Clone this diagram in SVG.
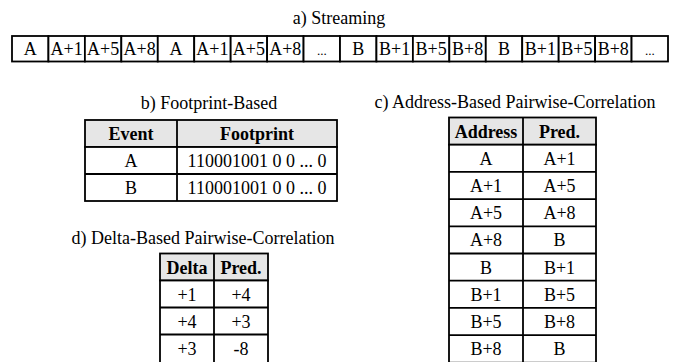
<svg xmlns="http://www.w3.org/2000/svg" width="675" height="362" viewBox="0 0 675 362">
<style>
svg text{font-family:"Liberation Serif","Times New Roman",serif !important;font-size:18px;fill:#000;text-anchor:middle}
svg text.h{font-weight:bold}
svg text.d{font-size:13px}
.c{fill:#fff;stroke:#000;stroke-width:1.8}
.hd{fill:#e6e6e6;stroke:#000;stroke-width:1.8}
.ln{stroke:#000;stroke-width:1.8;fill:none}
</style>
<rect width="675" height="362" fill="#fff"/>
<text x="339" y="24">a) Streaming</text>
<g id="streaming">
<g id="s1"><rect class="c" x="12" y="36" width="36.44" height="25.5"/><text x="30.2" y="55">A</text></g>
<g id="s2"><rect class="c" x="48.44" y="36" width="36.44" height="25.5"/><text x="66.7" y="55">A+1</text></g>
<g id="s3"><rect class="c" x="84.89" y="36" width="36.44" height="25.5"/><text x="103.1" y="55">A+5</text></g>
<g id="s4"><rect class="c" x="121.33" y="36" width="36.44" height="25.5"/><text x="139.6" y="55">A+8</text></g>
<g id="s5"><rect class="c" x="157.78" y="36" width="36.44" height="25.5"/><text x="176" y="55">A</text></g>
<g id="s6"><rect class="c" x="194.22" y="36" width="36.44" height="25.5"/><text x="212.4" y="55">A+1</text></g>
<g id="s7"><rect class="c" x="230.67" y="36" width="36.44" height="25.5"/><text x="248.9" y="55">A+5</text></g>
<g id="s8"><rect class="c" x="267.11" y="36" width="36.44" height="25.5"/><text x="285.3" y="55">A+8</text></g>
<g id="s9"><rect class="c" x="303.56" y="36" width="36.44" height="25.5"/><text class="d" x="321.8" y="55">...</text></g>
<g id="s10"><rect class="c" x="340" y="36" width="36.44" height="25.5"/><text x="358.2" y="55">B</text></g>
<g id="s11"><rect class="c" x="376.44" y="36" width="36.44" height="25.5"/><text x="394.7" y="55">B+1</text></g>
<g id="s12"><rect class="c" x="412.89" y="36" width="36.44" height="25.5"/><text x="431.1" y="55">B+5</text></g>
<g id="s13"><rect class="c" x="449.33" y="36" width="36.44" height="25.5"/><text x="467.6" y="55">B+8</text></g>
<g id="s14"><rect class="c" x="485.78" y="36" width="36.44" height="25.5"/><text x="504" y="55">B</text></g>
<g id="s15"><rect class="c" x="522.22" y="36" width="36.44" height="25.5"/><text x="540.4" y="55">B+1</text></g>
<g id="s16"><rect class="c" x="558.67" y="36" width="36.44" height="25.5"/><text x="576.9" y="55">B+5</text></g>
<g id="s17"><rect class="c" x="595.11" y="36" width="36.44" height="25.5"/><text x="613.3" y="55">B+8</text></g>
<g id="s18"><rect class="c" x="631.56" y="36" width="36.44" height="25.5"/><text class="d" x="649.8" y="55">...</text></g>
</g>

<text x="209" y="109">b) Footprint-Based</text>
<g id="footprint-table">
<rect class="hd" x="85" y="120" width="252" height="27"/>
<rect class="c" x="85" y="147" width="252" height="54"/>
<line class="ln" x1="85" y1="174" x2="337" y2="174"/>
<line class="ln" x1="177" y1="120" x2="177" y2="201"/>
<text class="h" x="131" y="140">Event</text>
<text class="h" x="257" y="140">Footprint</text>
<text x="131" y="167">A</text>
<text x="257" y="167">110001001 0 0 ... 0</text>
<text x="131" y="194">B</text>
<text x="257" y="194">110001001 0 0 ... 0</text>
</g>

<text x="515" y="108">c) Address-Based Pairwise-Correlation</text>
<g id="address-table">
<rect class="hd" x="449" y="117.5" width="147" height="27.2"/>
<rect class="c" x="449" y="144.7" width="147" height="218"/>
<line class="ln" x1="523" y1="117.5" x2="523" y2="363"/>
<line class="ln" x1="449" y1="171.9" x2="596" y2="171.9"/>
<line class="ln" x1="449" y1="199.1" x2="596" y2="199.1"/>
<line class="ln" x1="449" y1="226.3" x2="596" y2="226.3"/>
<line class="ln" x1="449" y1="253.5" x2="596" y2="253.5"/>
<line class="ln" x1="449" y1="280.7" x2="596" y2="280.7"/>
<line class="ln" x1="449" y1="307.9" x2="596" y2="307.9"/>
<line class="ln" x1="449" y1="335.1" x2="596" y2="335.1"/>
<text class="h" x="486" y="137.5">Address</text>
<text class="h" x="559.5" y="137.5">Pred.</text>
<text x="486" y="164.7">A</text><text x="559.5" y="164.7">A+1</text>
<text x="486" y="191.9">A+1</text><text x="559.5" y="191.9">A+5</text>
<text x="486" y="219.1">A+5</text><text x="559.5" y="219.1">A+8</text>
<text x="486" y="246.3">A+8</text><text x="559.5" y="246.3">B</text>
<text x="486" y="273.5">B</text><text x="559.5" y="273.5">B+1</text>
<text x="486" y="300.7">B+1</text><text x="559.5" y="300.7">B+5</text>
<text x="486" y="327.9">B+5</text><text x="559.5" y="327.9">B+8</text>
<text x="486" y="355.1">B+8</text><text x="559.5" y="355.1">B</text>
</g>

<text x="203" y="244">d) Delta-Based Pairwise-Correlation</text>
<g id="delta-table">
<rect class="hd" x="160" y="253.5" width="108" height="27"/>
<rect class="c" x="160" y="280.5" width="108" height="83"/>
<line class="ln" x1="214" y1="253.5" x2="214" y2="363"/>
<line class="ln" x1="160" y1="307.5" x2="268" y2="307.5"/>
<line class="ln" x1="160" y1="334.5" x2="268" y2="334.5"/>
<text class="h" x="187" y="273.5">Delta</text>
<text class="h" x="241" y="273.5">Pred.</text>
<text x="187" y="300.5">+1</text><text x="241" y="300.5">+4</text>
<text x="187" y="327.5">+4</text><text x="241" y="327.5">+3</text>
<text x="187" y="354.5">+3</text><text x="241" y="354.5">-8</text>
</g>
</svg>
